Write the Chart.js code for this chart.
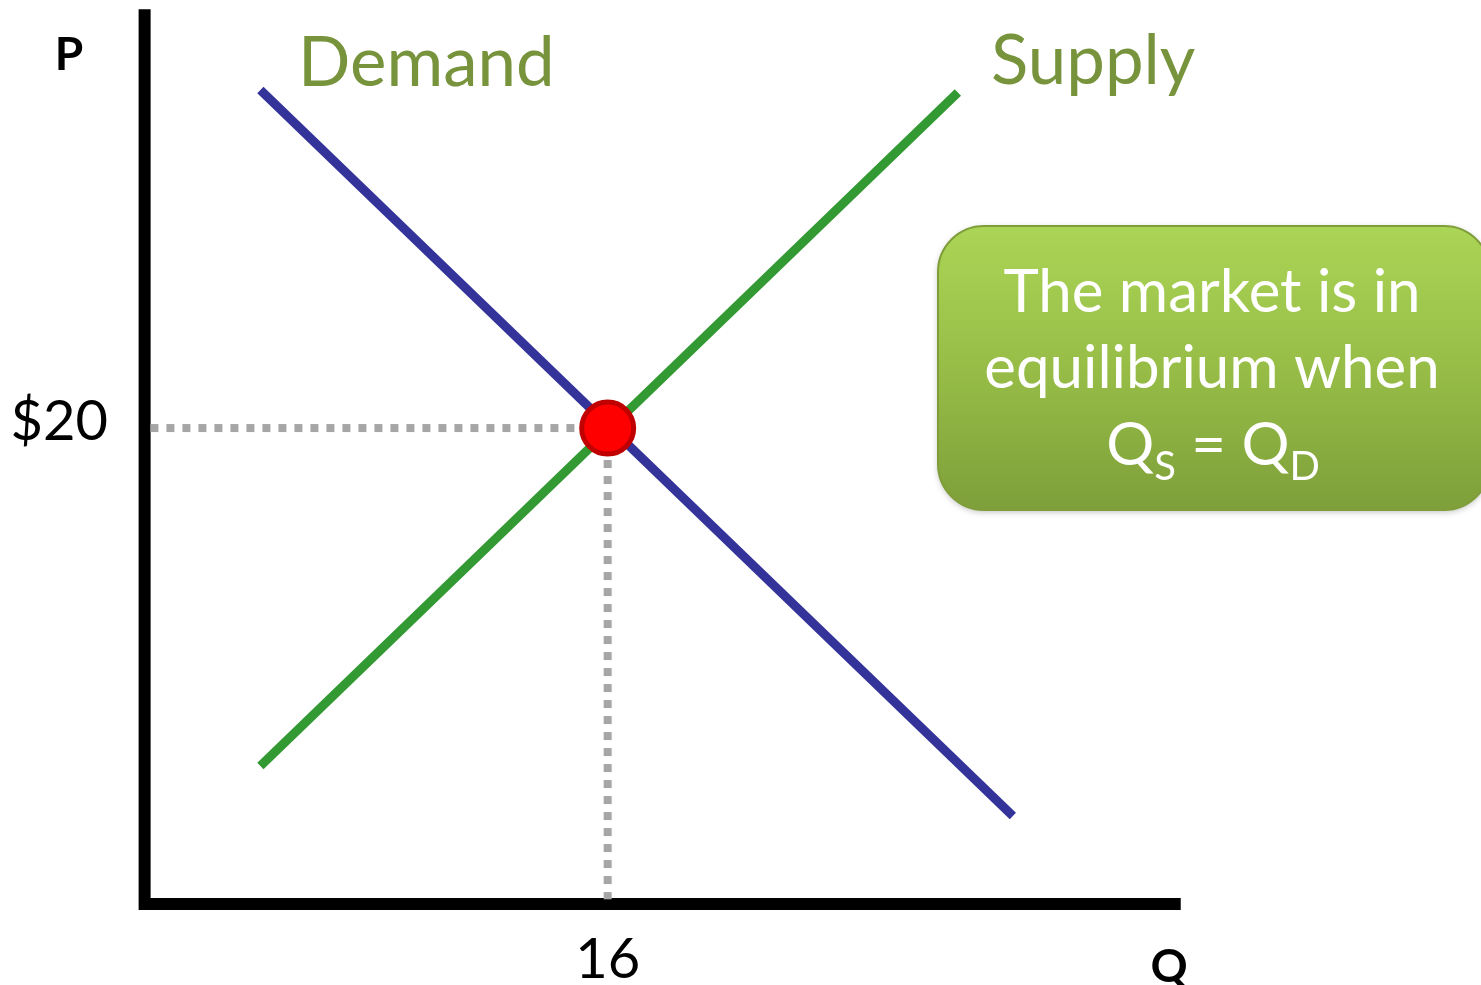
<!DOCTYPE html>
<html>
<head>
<meta charset="utf-8">
<script src="https://cdn.jsdelivr.net/npm/chart.js@4.4.0/dist/chart.umd.min.js"></script>
<style>
  html, body { margin: 0; padding: 0; background: #fff; }
  #wrap { width: 1481px; height: 985px; position: relative; }
</style>
</head>
<body>
<div id="wrap"><canvas id="chart"></canvas></div>
<script>
// 供需曲线数据 (Q, P)
const demandPts = [{ x: 4, y: 34.2 }, { x: 30, y: 3.7 }];
const supplyPts = [{ x: 4, y: 5.8 }, { x: 28.1, y: 34.1 }];
const eqQ = 16;
const eqP = 20;
const axisTopP = 37.6;
const axisEndQ = 35.8;

const priceLabel = '$20';
const qtyLabel = '16';

const boxLines = ['The market is in', 'equilibrium when'];

const FONT = 'Lato, "Open Sans", sans-serif';

const textPlugin = {
    id: 'econText',
    afterDatasetsDraw(chart) {
        const ctx = chart.ctx;
        const xs = chart.scales.x, ys = chart.scales.y;
        ctx.save();

        // 曲线名称
        ctx.fillStyle = '#77933c';
        ctx.textBaseline = 'alphabetic';
        ctx.textAlign = 'left';
        ctx.font = '69px ' + FONT;
        ctx.fillText('Demand', 298, 86);
        ctx.fillText('Supply', 991, 84);

        // 坐标轴字母
        ctx.fillStyle = '#000';
        ctx.font = 'bold 46px ' + FONT;
        ctx.textAlign = 'center';
        ctx.fillText('P', 69, 70);
        ctx.fillText('Q', 1169, 982);

        // 刻度标签
        ctx.font = '56px ' + FONT;
        ctx.textAlign = 'right';
        ctx.textBaseline = 'middle';
        ctx.fillText(priceLabel, 108, ys.getPixelForValue(eqP) - 6);
        ctx.textAlign = 'center';
        ctx.textBaseline = 'alphabetic';
        ctx.fillText(qtyLabel, xs.getPixelForValue(eqQ), 978);

        // 说明框
        const bx = 938, by = 226, bw = 552, bh = 284, r = 46;
        ctx.shadowColor = 'rgba(0,0,0,0.25)';
        ctx.shadowBlur = 6;
        ctx.shadowOffsetY = 2;
        const g = ctx.createLinearGradient(0, by, 0, by + bh);
        g.addColorStop(0, '#abd556');
        g.addColorStop(0.5, '#97bd47');
        g.addColorStop(1, '#7e9f3a');
        ctx.fillStyle = g;
        ctx.beginPath();
        ctx.roundRect(bx, by, bw, bh, r);
        ctx.fill();
        ctx.shadowColor = 'transparent';
        ctx.strokeStyle = '#7f9e3a';
        ctx.lineWidth = 2;
        ctx.stroke();

        ctx.fillStyle = '#fff';
        ctx.font = '60px ' + FONT;
        ctx.textAlign = 'center';
        ctx.fillText(boxLines[0], 1212, 312);
        ctx.fillText(boxLines[1], 1212, 388);

        // Q_S = Q_D
        const big = '60px ' + FONT, small = '40px ' + FONT;
        const parts = [['Q', big, 0], ['S', small, 15], [' = ', big, 0], ['Q', big, 0], ['D', small, 15]];
        let total = 0;
        parts.forEach(p => { ctx.font = p[1]; total += ctx.measureText(p[0]).width; });
        let cx = 1213 - total / 2;
        ctx.textAlign = 'left';
        parts.forEach(p => {
            ctx.font = p[1];
            ctx.fillText(p[0], cx, 465 + p[2]);
            cx += ctx.measureText(p[0]).width;
        });

        ctx.restore();
    }
};

new Chart(document.getElementById('chart'), {
    type: 'scatter',
    data: {
        datasets: [
            {
                label: 'Equilibrium',
                data: [{ x: eqQ, y: eqP }],
                pointRadius: 26,
                pointBackgroundColor: '#ff0000',
                pointBorderColor: '#c00000',
                pointBorderWidth: 5,
                order: 0,
            },
            {
                label: 'Demand',
                data: demandPts,
                showLine: true,
                borderColor: '#333399',
                borderWidth: 9,
                pointRadius: 0,
                order: 1,
            },
            {
                label: 'Supply',
                data: supplyPts,
                showLine: true,
                borderColor: '#339933',
                borderWidth: 9,
                pointRadius: 0,
                order: 2,
            },
            {
                label: 'P guide',
                data: [{ x: 0.2, y: eqP }, { x: eqQ, y: eqP }],
                showLine: true,
                borderColor: '#a6a6a6',
                borderWidth: 8,
                borderDash: [8, 8],
                pointRadius: 0,
                order: 3,
            },
            {
                label: 'Q guide',
                data: [{ x: eqQ, y: eqP }, { x: eqQ, y: 0.2 }],
                showLine: true,
                borderColor: '#a6a6a6',
                borderWidth: 8,
                borderDash: [8, 8],
                pointRadius: 0,
                order: 4,
            },
            {
                label: 'Axes',
                data: [{ x: 0, y: axisTopP }, { x: 0, y: 0 }, { x: axisEndQ, y: 0 }],
                showLine: true,
                borderColor: '#000',
                borderWidth: 12,
                borderJoinStyle: 'miter',
                borderCapStyle: 'butt',
                pointRadius: 0,
                order: 5,
            },
        ]
    },
    options: {
        responsive: true,
        maintainAspectRatio: false,
        animation: false,
        // 固定内边距，避免大圆点撑开绘图区
        layout: { padding: 32 },
        scales: {
            x: { type: 'linear', min: -3.891, max: 45.07, display: false },
            y: { type: 'linear', min: -2.055, max: 36.64, display: false },
        },
        plugins: {
            legend: { display: false },
            tooltip: { enabled: false },
        },
        clip: false,
    },
    plugins: [textPlugin]
});
</script>
</body>
</html>
